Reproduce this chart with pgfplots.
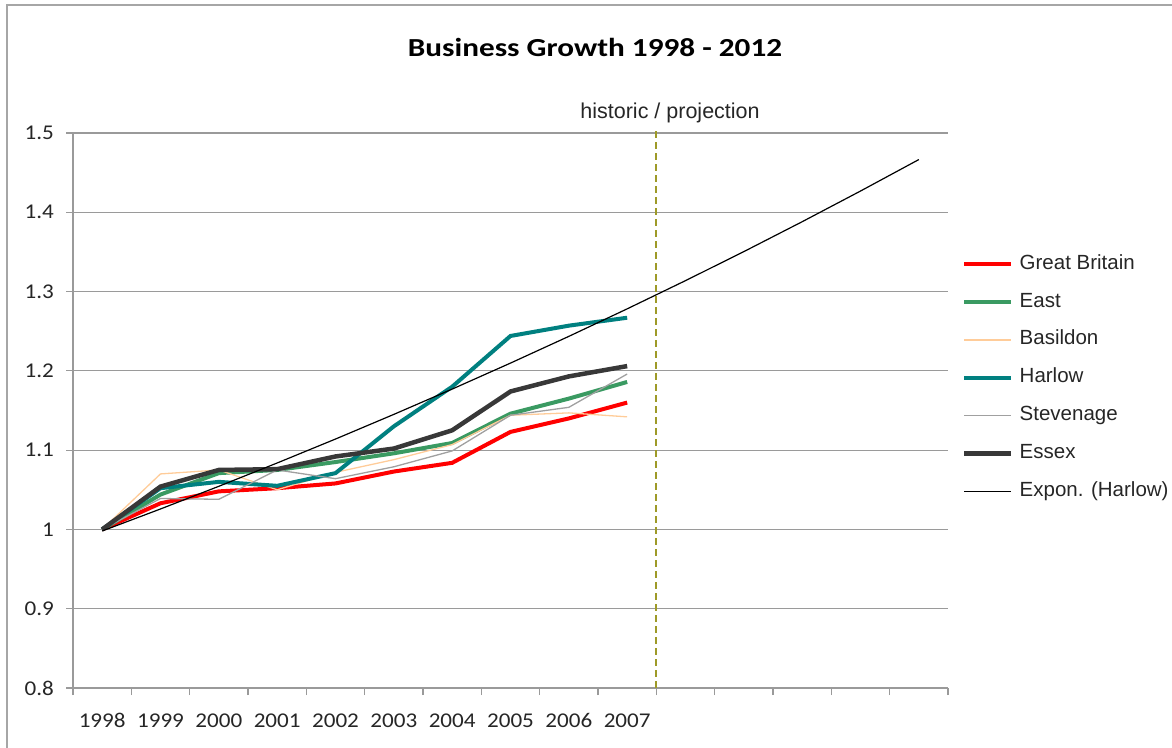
\documentclass[border=0pt]{standalone}
\usepackage{pgfplots}
\pgfplotsset{compat=1.18}
\usepackage{fontspec}
\usepackage{graphicx}
\setmainfont{Carlito}[FakeStretch=1.1]
\newfontfamily\legfont{Liberation Sans}
\newfontfamily\titlefont{Carlito}[FakeStretch=1.2]
\definecolor{gbred}{HTML}{FF0000}
\definecolor{eastgreen}{HTML}{3A9A62}
\definecolor{basil}{HTML}{FFCC99}
\definecolor{harlow}{HTML}{008080}
\definecolor{steven}{HTML}{A0A0A0}
\definecolor{essex}{HTML}{383838}
\definecolor{olive}{HTML}{9E9A28}
\definecolor{axgray}{HTML}{9A9A9A}
\definecolor{framegray}{HTML}{A6A6A6}
\begin{document}
\begin{tikzpicture}
\path[use as bounding box] (0,0) rectangle (1172bp,748bp);
\draw[framegray, line width=1.2bp] (7bp,0) -- (7bp,743bp) -- (1172bp,743bp);
\node[font={\titlefont\fontsize{26bp}{30bp}\selectfont\bfseries}, anchor=center] at (595bp,701bp) {Business Growth 1998 - 2012};
\begin{axis}[
  scale only axis, width=875bp, height=555bp,
  at={(73bp,60bp)}, anchor=south west,
  xmin=-0.5, xmax=14.5, ymin=0.8, ymax=1.5,
  clip=false,
  axis lines=left,
  axis line style={-, draw=axgray, line width=1.2bp},
  xtick={0,...,9},
  xticklabels={1998,1999,2000,2001,2002,2003,2004,2005,2006,2007},
  major x tick style={draw=none},
  minor xtick={-0.5,0.5,...,14.5},
  minor x tick style={draw=axgray, line width=1.2bp},
  minor tick length=7bp,
  ytick={0.8,0.9,...,1.5},
  major y tick style={draw=axgray, line width=1.2bp},
  major tick length=7bp,
  tick align=outside,
  ymajorgrids,
  grid style={draw=axgray, line width=1.2bp},
  /pgf/number format/assume math mode=true,
  /pgf/number format/fixed,
  /pgf/number format/precision=1,
  tick label style={font=\fontsize{21bp}{24bp}\selectfont, text=black!85},
  xticklabel style={anchor=north, inner sep=0pt, text height=13.5bp, text depth=0pt, yshift=-19bp},
  yticklabel style={anchor=east, inner sep=0pt, xshift=-12bp},
  legend style={draw=none, fill=none, inner sep=0pt, at={(1.0160,0.559)}, anchor=west,
    font={\legfont\fontsize{20.5bp}{24bp}\selectfont}, text=black!85,
    row sep=17.8bp,
    nodes={inner sep=0pt, text height=15bp, text depth=5bp}},
  legend cell align=left,
  legend image code/.code={\draw[#1] (0bp,0bp) -- (47bp,0bp); \path (53bp,0bp);},
]
\addplot[gbred, line width=4bp] coordinates {(0,1.000) (1,1.033) (2,1.048) (3,1.052) (4,1.058) (5,1.073) (6,1.084) (7,1.123) (8,1.140) (9,1.160)};
\addlegendentry{Great Britain}
\addplot[eastgreen, line width=4bp] coordinates {(0,1.000) (1,1.044) (2,1.071) (3,1.075) (4,1.085) (5,1.096) (6,1.109) (7,1.146) (8,1.165) (9,1.186)};
\addlegendentry{East}
\addplot[basil, line width=1.3bp] coordinates {(0,1.000) (1,1.070) (2,1.075) (3,1.050) (4,1.072) (5,1.088) (6,1.107) (7,1.144) (8,1.147) (9,1.142)};
\addlegendentry{Basildon}
\addplot[harlow, line width=4bp] coordinates {(0,1.000) (1,1.052) (2,1.060) (3,1.055) (4,1.071) (5,1.130) (6,1.180) (7,1.244) (8,1.257) (9,1.267)};
\addlegendentry{Harlow}
\addplot[steven, line width=1.3bp] coordinates {(0,1.000) (1,1.039) (2,1.038) (3,1.075) (4,1.064) (5,1.079) (6,1.099) (7,1.144) (8,1.154) (9,1.196)};
\addlegendentry{Stevenage}
\addplot[essex, line width=4.5bp] coordinates {(0,1.000) (1,1.054) (2,1.075) (3,1.076) (4,1.092) (5,1.102) (6,1.125) (7,1.174) (8,1.193) (9,1.206)};
\addlegendentry{Essex}
\addplot[black, line width=1.2bp] coordinates {(0,0.998) (1,1.0258) (2,1.0544) (3,1.0838) (4,1.1140) (5,1.1451) (6,1.1770) (7,1.2098) (8,1.2435) (9,1.2782) (10,1.3138) (11,1.3504) (12,1.3881) (13,1.4268) (14,1.4665)};
\addlegendentry{Expon. (Harlow)}
\addplot[olive, line width=2bp, dash pattern=on 7bp off 4bp, forget plot] coordinates {(9.5,0.8) (9.5,1.505)};
\node[font={\legfont\fontsize{21.5bp}{24bp}\selectfont}, text=black!85, anchor=center] at (axis cs:9.735,1.525) {historic / projection};
\end{axis}
\end{tikzpicture}
\end{document}
